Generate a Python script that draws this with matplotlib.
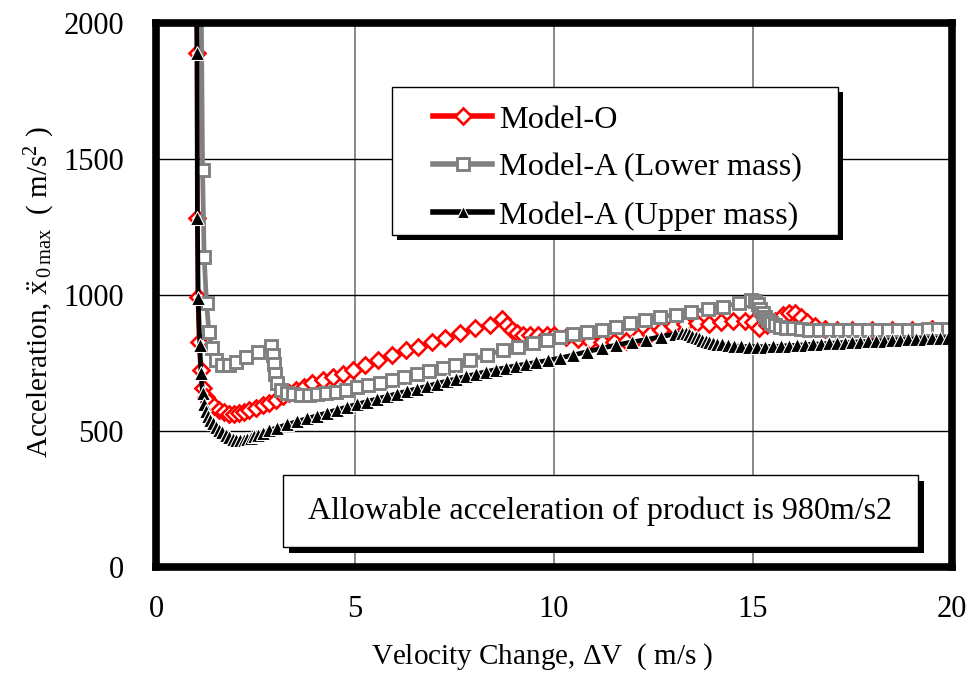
import matplotlib
matplotlib.use('Agg')
import matplotlib.pyplot as plt
from matplotlib.patches import Rectangle

plt.rcParams['font.family'] = ['Liberation Serif', 'DejaVu Serif']
plt.rcParams['mathtext.fontset'] = 'custom'
plt.rcParams['mathtext.rm'] = 'Liberation Serif'
plt.rcParams['mathtext.it'] = 'Liberation Serif:italic'

# Model-O
red_x = [1.00, 1.03, 1.04, 1.05, 1.08, 1.12, 1.17, 1.25, 1.33, 1.45,
         1.58, 1.70, 1.83, 1.95, 2.08, 2.21, 2.33, 2.51, 2.68, 2.83,
         3.01, 3.18, 3.33, 3.51, 3.71, 3.93, 4.19, 4.45, 4.70, 4.95,
         5.26, 5.59, 5.93, 6.27, 6.59, 6.93, 7.27, 7.64, 8.02, 8.40,
         8.69, 8.81, 8.94, 9.06, 9.22, 9.40, 9.60, 9.82, 10.00, 10.30,
         10.60, 10.90, 11.20, 11.50, 11.80, 12.10, 12.40, 12.70, 13.00, 13.30,
         13.60, 13.90, 14.20, 14.50, 14.80, 15.00, 15.15, 15.35, 15.55, 15.75,
         15.90, 16.05, 16.20, 16.35, 16.55, 16.80, 17.10, 17.50, 18.00, 18.50,
         19.00, 19.50, 20.00]
red_y = [2500, 1890, 1283, 993, 827, 724, 658, 625, 605, 590,
         578, 568, 563, 563, 565, 570, 577, 585, 594, 604,
         614, 627, 640, 651, 662, 676, 688, 699, 710, 724,
         743, 761, 779, 798, 810, 828, 842, 860, 879, 890,
         912, 890, 871, 860, 853, 853, 853, 853, 853, 845,
         838, 830, 826, 826, 832, 845, 858, 872, 885, 895,
         897, 893, 900, 905, 905, 900, 880, 888, 905, 928,
         935, 932, 918, 900, 885, 876, 872, 870, 870, 870,
         872, 874, 875]

# Model-A (Lower mass)
gray_x = [1.12, 1.17, 1.21, 1.27, 1.33, 1.40, 1.52, 1.66, 1.83, 2.02,
          2.27, 2.57, 2.90, 2.93, 2.96, 2.99, 3.05, 3.15, 3.28, 3.45,
          3.65, 3.85, 4.05, 4.28, 4.52, 4.78, 5.05, 5.33, 5.62, 5.92,
          6.23, 6.55, 6.87, 7.20, 7.52, 7.89, 8.31, 8.72, 9.10, 9.47,
          9.82, 10.15, 10.48, 10.82, 11.20, 11.57, 11.90, 12.28, 12.66, 13.07,
          13.45, 13.86, 14.24, 14.66, 14.95, 15.05, 15.12, 15.18, 15.24, 15.30,
          15.37, 15.45, 15.55, 15.68, 15.83, 16.00, 16.20, 16.42, 16.65, 16.90,
          17.15, 17.40, 17.65, 17.90, 18.15, 18.40, 18.65, 18.90, 19.15, 19.40,
          19.65, 19.90, 20.15]
gray_y = [2400, 1460, 1140, 970, 864, 805, 761, 743, 743, 754,
          772, 790, 812, 780, 745, 710, 675, 652, 640, 636,
          634, 634, 636, 640, 645, 652, 660, 668, 676, 686,
          697, 708, 719, 730, 743, 761, 779, 798, 810, 823,
          835, 847, 858, 865, 871, 883, 897, 908, 920, 928,
          939, 947, 957, 971, 982, 978, 965, 950, 935, 920,
          908, 898, 890, 884, 880, 877, 875, 873, 872, 871,
          871, 871, 871, 871, 871, 872, 872, 873, 873, 874,
          875, 875, 876]

# Model-A (Upper mass)
black_x = [0.99, 1.03, 1.04, 1.06, 1.10, 1.13, 1.17, 1.20, 1.25, 1.30,
           1.36, 1.42, 1.50, 1.58, 1.66, 1.75, 1.84, 1.93, 2.02, 2.11,
           2.20, 2.29, 2.38, 2.47, 2.56, 2.68, 2.85, 3.05, 3.30, 3.55,
           3.80, 4.05, 4.30, 4.55, 4.80, 5.05, 5.30, 5.55, 5.80, 6.05,
           6.30, 6.55, 6.80, 7.05, 7.30, 7.55, 7.80, 8.05, 8.30, 8.55,
           8.80, 9.05, 9.30, 9.55, 9.86, 10.15, 10.48, 10.82, 11.20, 11.57,
           11.95, 12.32, 12.70, 13.03, 13.22, 13.32, 13.40, 13.48, 13.56, 13.64,
           13.72, 13.81, 13.90, 14.00, 14.10, 14.22, 14.36, 14.52, 14.70, 14.90,
           15.10, 15.30, 15.50, 15.70, 15.90, 16.10, 16.30, 16.50, 16.70, 16.90,
           17.10, 17.30, 17.50, 17.70, 17.90, 18.10, 18.30, 18.50, 18.70, 18.90,
           19.10, 19.30, 19.50, 19.70, 19.90, 20.10]
black_y = [2600, 1890, 1283, 989, 816, 713, 640, 600, 575, 555,
           540, 528, 516, 505, 495, 486, 478, 472, 468, 467,
           468, 471, 476, 481, 487, 494, 503, 512, 524, 535,
           546, 556, 567, 578, 588, 598, 608, 618, 627, 637,
           646, 655, 664, 674, 683, 692, 701, 710, 718, 726,
           733, 740, 746, 752, 760, 768, 779, 791, 804, 816,
           827, 836, 847, 856, 861, 860, 856, 851, 846, 841,
           836, 832, 828, 824, 821, 818, 815, 813, 811, 810,
           810, 810, 811, 812, 814, 815, 817, 819, 820, 822,
           824, 825, 827, 828, 829, 831, 832, 834, 835, 837,
           838, 839, 840, 841, 843, 845]

labels = ['Model-O', 'Model-A (Lower mass)', 'Model-A (Upper mass)']
note = 'Allowable acceleration of product is 980m/s2'

fig = plt.figure(figsize=(9.72, 6.74), dpi=100)
ax = fig.add_axes([0.1605, 0.1588, 0.8189, 0.8071])

ax.plot(red_x, red_y, color='red', lw=3.2, marker='D', ms=8, mfc='white',
        mec='red', mew=1.9, label=labels[0], zorder=3)
ax.plot(gray_x, gray_y, color='#808080', lw=3.4, marker='s', ms=9, mfc='white',
        mec='#808080', mew=2.1, label=labels[1], zorder=4)
ax.plot(black_x, black_y, color='black', lw=3.4, marker='^', ms=10, mfc='black',
        mec='white', mew=0.8, label=labels[2], zorder=5)

ax.set_xlim(0, 20)
ax.set_ylim(0, 2000)
ax.set_xticks([0, 5, 10, 15, 20])
ax.set_yticks([0, 500, 1000, 1500, 2000])
ax.tick_params(axis='both', length=0, labelsize=22)
ax.tick_params(axis='x', pad=20)
ax.tick_params(axis='y', pad=23)
ax.grid(axis='y', color='black', lw=1)
ax.grid(axis='x', color='#808080', lw=1.3)
ax.set_axisbelow(True)
for s in ax.spines.values():
    s.set_linewidth(5.5)
    s.set_zorder(10)

ax.set_xlabel('Velocity Change, $\\Delta$V  ( m/s )', fontsize=21)
ax.xaxis.set_label_coords(0.485, -0.137)
ax.set_ylabel('Acceleration, $\\ddot{\\mathrm{x}}_{\\,0\\,\\mathrm{max}}$  ( m/s$^{2}$ )',
              fontsize=21)
ax.yaxis.set_label_coords(-0.124, 0.505)

# legend box with shadow
ax.add_patch(Rectangle((0.3028, 0.6011), 0.5603, 0.2721, transform=ax.transAxes,
                       facecolor='black', edgecolor='none', zorder=18))
ax.add_patch(Rectangle((0.2965, 0.6103), 0.5603, 0.2721, transform=ax.transAxes,
                       facecolor='white', edgecolor='black', lw=1, zorder=19))
leg = ax.legend(loc='upper left', bbox_to_anchor=(0.348, 0.849), borderaxespad=0,
                borderpad=0, fontsize=23.2, frameon=False, handlelength=1.84,
                handletextpad=0.22, labelspacing=0.57)
leg.set_zorder(20)
for h in leg.legend_handles:
    h.set_linewidth(4)
leg.legend_handles[0].set_markersize(8.5)
leg.legend_handles[1].set_markersize(9)
leg.legend_handles[2].set_markersize(8)

# note box with shadow
ax.add_patch(Rectangle((0.1670, 0.0258), 0.7975, 0.1322, transform=ax.transAxes,
                       facecolor='black', edgecolor='none', zorder=18))
ax.add_patch(Rectangle((0.1595, 0.0368), 0.7975, 0.1322, transform=ax.transAxes,
                       facecolor='white', edgecolor='black', lw=1, zorder=19))
ax.text(0.558, 0.103, note, transform=ax.transAxes, ha='center', va='center',
        fontsize=23, zorder=21)

fig.savefig('out.png', dpi=100)
